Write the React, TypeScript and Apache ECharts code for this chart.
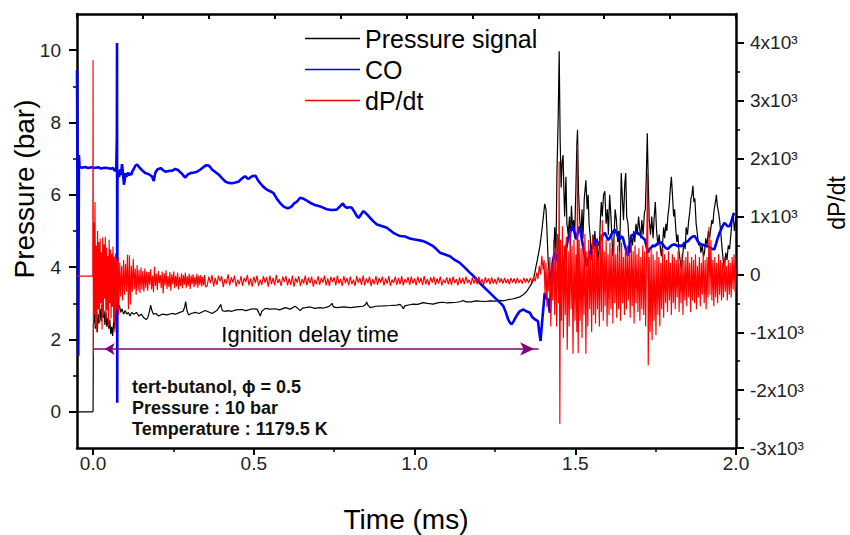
import React, { useEffect, useRef } from 'react';
import * as echarts from 'echarts';

const FONT = '"Liberation Sans", Arial, Helvetica, sans-serif';

// axis ticks
const X_TICKS = [0, 0.5, 1.0, 1.5, 2.0];
const X_MINOR = [0.25, 0.75, 1.25, 1.75];
const P_TICKS = [0, 2, 4, 6, 8, 10];
const P_MINOR = [1, 3, 5, 7, 9];
const D_TICKS = [-3000, -2000, -1000, 0, 1000, 2000, 3000, 4000];
const D_MINOR = [-2500, -1500, -500, 500, 1500, 2500, 3500];

const LEGEND_NAMES = ['Pressure signal', 'CO', 'dP/dt'];

// Pressure signal (bar) vs time (ms)
const pressure: number[][] = [
  [-0.05, 0], [-0.002, 0], [0.0, 0.02], [0.001, 2.4],
  [0.004, 2.75], [0.007, 2.3], [0.01, 2.9], [0.013, 2.2], [0.016, 2.7], [0.019, 2.45], [0.022, 2.85], [0.025, 2.5],
  [0.028, 2.95], [0.031, 2.6], [0.034, 2.8], [0.037, 2.4], [0.04, 2.75], [0.043, 2.35], [0.046, 2.6], [0.049, 2.3],
  [0.052, 2.55], [0.055, 2.15], [0.058, 2.35], [0.061, 2.1], [0.064, 2.5], [0.067, 2.3], [0.07, 2.6], [0.073, 2.95],
  [0.076, 3.1], [0.079, 2.85], [0.082, 2.95], [0.086, 2.75], [0.09, 2.85], [0.095, 2.7], [0.1, 2.8], [0.105, 2.7],
  [0.11, 2.75], [0.115, 2.65], [0.12, 2.75], [0.127, 2.7], [0.135, 2.75], [0.142, 2.65], [0.15, 2.7], [0.158, 2.6],
  [0.165, 2.55], [0.17, 2.6], [0.176, 2.8], [0.179, 2.95], [0.183, 2.8], [0.188, 2.7], [0.195, 2.72], [0.204, 2.65],
  [0.215, 2.7], [0.23, 2.68], [0.245, 2.72], [0.256, 2.7], [0.27, 2.75], [0.28, 2.78], [0.285, 2.9], [0.288, 3.05],
  [0.292, 2.8], [0.297, 2.68], [0.305, 2.72], [0.318, 2.75], [0.33, 2.72], [0.349, 2.8], [0.36, 2.76], [0.37, 2.72],
  [0.385, 2.8], [0.393, 2.9], [0.397, 2.97], [0.402, 2.8], [0.41, 2.78], [0.42, 2.8], [0.432, 2.78], [0.445, 2.82],
  [0.463, 2.83], [0.475, 2.8], [0.484, 2.82], [0.495, 2.85], [0.51, 2.84], [0.515, 2.75], [0.52, 2.65], [0.525, 2.78],
  [0.536, 2.86], [0.55, 2.84], [0.567, 2.85], [0.58, 2.82], [0.598, 2.88], [0.613, 2.84], [0.629, 2.92], [0.637, 2.86],
  [0.644, 2.8], [0.652, 2.87], [0.66, 2.88], [0.675, 2.9], [0.69, 2.86], [0.705, 2.88], [0.717, 2.87], [0.73, 2.9],
  [0.738, 2.94], [0.743, 3.0], [0.748, 2.9], [0.758, 2.88], [0.78, 2.9], [0.8, 2.88], [0.82, 2.9], [0.84, 2.92],
  [0.848, 2.97], [0.851, 3.04], [0.855, 2.95], [0.862, 2.88], [0.88, 2.92], [0.903, 2.93], [0.925, 2.94], [0.945, 2.95],
  [0.955, 2.97], [0.962, 2.9], [0.965, 2.85], [0.97, 2.93], [0.985, 2.96], [0.996, 2.98], [1.01, 2.97], [1.027, 3.02],
  [1.04, 3.0], [1.058, 2.98], [1.075, 3.02], [1.09, 3.03], [1.1, 3.01], [1.115, 3.02], [1.131, 3.03], [1.145, 3.05],
  [1.151, 3.08], [1.16, 3.04], [1.177, 3.04], [1.19, 3.07], [1.203, 3.06], [1.22, 3.05], [1.234, 3.07], [1.25, 3.06],
  [1.265, 3.08], [1.276, 3.07], [1.29, 3.1], [1.305, 3.12], [1.317, 3.15], [1.328, 3.18], [1.338, 3.24], [1.348, 3.32],
  [1.359, 3.47], [1.368, 3.6], [1.374, 3.84], [1.382, 4.2], [1.39, 4.58], [1.396, 5.0], [1.402, 5.5], [1.405, 5.75],
  [1.409, 5.6], [1.412, 5.0], [1.416, 4.1], [1.421, 3.7], [1.426, 3.9], [1.431, 3.6], [1.436, 5.1], [1.44, 4.4],
  [1.443, 6.6], [1.447, 8.2], [1.45, 9.97], [1.453, 7.5], [1.456, 6.2], [1.459, 6.9], [1.462, 7.1], [1.465, 6.0],
  [1.467, 5.4], [1.471, 6.5], [1.474, 5.2], [1.478, 4.9], [1.482, 5.4], [1.485, 4.6], [1.488, 5.7], [1.492, 5.0],
  [1.495, 5.3], [1.498, 4.8], [1.502, 6.2], [1.505, 7.4], [1.507, 7.8], [1.51, 6.1], [1.514, 5.3], [1.518, 4.9],
  [1.521, 5.6], [1.524, 4.8], [1.528, 5.9], [1.533, 6.4], [1.537, 5.6], [1.54, 6.0], [1.543, 5.2], [1.547, 4.8],
  [1.55, 4.2], [1.555, 4.9], [1.558, 4.5], [1.561, 5.0], [1.565, 4.4], [1.568, 4.8], [1.571, 4.0], [1.575, 4.6],
  [1.578, 5.3], [1.581, 5.8], [1.584, 5.4], [1.588, 6.0], [1.592, 6.1], [1.596, 5.2], [1.6, 5.6], [1.603, 4.9],
  [1.607, 6.0], [1.611, 5.4], [1.614, 4.8], [1.617, 4.3], [1.621, 4.9], [1.624, 5.6], [1.628, 5.3], [1.632, 4.7],
  [1.635, 5.0], [1.638, 4.4], [1.641, 5.6], [1.643, 6.6], [1.646, 6.0], [1.65, 5.3], [1.654, 6.3], [1.657, 6.6],
  [1.66, 5.4], [1.664, 5.2], [1.668, 4.6], [1.671, 4.4], [1.674, 4.9], [1.678, 4.6], [1.682, 5.0], [1.685, 4.7],
  [1.689, 5.2], [1.693, 4.9], [1.697, 5.4], [1.7, 5.1], [1.704, 4.8], [1.707, 5.3], [1.711, 4.9], [1.715, 5.5],
  [1.718, 5.6], [1.721, 6.5], [1.724, 7.7], [1.727, 6.4], [1.73, 5.3], [1.734, 4.9], [1.738, 5.4], [1.742, 4.8],
  [1.745, 5.3], [1.749, 5.8], [1.753, 5.0], [1.757, 4.6], [1.761, 4.9], [1.765, 4.5], [1.768, 4.3], [1.772, 4.7],
  [1.775, 5.1], [1.778, 4.8], [1.782, 5.2], [1.785, 5.0], [1.788, 5.4], [1.792, 5.7], [1.796, 6.2], [1.799, 6.5],
  [1.803, 5.9], [1.806, 5.4], [1.809, 5.6], [1.813, 5.0], [1.816, 4.7], [1.819, 4.9], [1.823, 4.4], [1.826, 4.2],
  [1.83, 3.95], [1.834, 4.3], [1.838, 4.7], [1.842, 4.5], [1.845, 5.1], [1.849, 4.9], [1.853, 5.3], [1.856, 5.5],
  [1.86, 5.9], [1.863, 6.0], [1.866, 6.25], [1.869, 5.8], [1.872, 5.9], [1.876, 5.2], [1.88, 4.9], [1.884, 4.6],
  [1.887, 4.7], [1.891, 4.4], [1.895, 4.6], [1.899, 4.3], [1.902, 4.4], [1.906, 4.8], [1.91, 4.6], [1.914, 5.0],
  [1.918, 4.8], [1.922, 5.1], [1.925, 5.3], [1.928, 5.2], [1.932, 5.6], [1.936, 5.8], [1.939, 6.0], [1.942, 5.7],
  [1.946, 5.5], [1.949, 5.3], [1.953, 4.9], [1.957, 4.5], [1.96, 4.2], [1.964, 3.95], [1.968, 4.4], [1.972, 4.2],
  [1.976, 4.6], [1.98, 4.5], [1.984, 4.9], [1.988, 5.3], [1.991, 5.5], [1.995, 5.0], [2.0, 5.4],
];

// CO signal (plotted on the pressure axis)
const co: number[][] = [
  [-0.05, 9.45], [-0.046, 1.55], [-0.044, 7.1], [-0.042, 6.78], [-0.035, 6.75], [-0.025, 6.77], [-0.015, 6.74],
  [-0.005, 6.76], [0.005, 6.74], [0.015, 6.76], [0.025, 6.73], [0.035, 6.75], [0.045, 6.74], [0.055, 6.72],
  [0.062, 6.74], [0.068, 6.66], [0.072, 6.7], [0.074, 7.6], [0.0745, 10.2], [0.0752, 0.25], [0.0758, 6.4],
  [0.078, 6.55], [0.081, 6.5], [0.084, 6.7], [0.087, 6.55], [0.09, 6.85], [0.093, 6.6], [0.096, 6.28], [0.099, 6.45],
  [0.101, 6.6], [0.105, 6.5], [0.108, 6.62], [0.111, 6.54], [0.115, 6.6], [0.119, 6.55], [0.122, 6.65], [0.127, 6.72],
  [0.132, 6.81], [0.137, 6.84], [0.142, 6.78], [0.148, 6.72], [0.155, 6.66], [0.163, 6.6], [0.17, 6.58], [0.177, 6.55],
  [0.184, 6.5], [0.187, 6.42], [0.189, 6.38], [0.191, 6.5], [0.194, 6.62], [0.2, 6.7], [0.21, 6.74], [0.218, 6.68],
  [0.225, 6.64], [0.235, 6.66], [0.246, 6.67], [0.256, 6.72], [0.265, 6.68], [0.272, 6.62], [0.277, 6.58], [0.282, 6.52],
  [0.287, 6.48], [0.293, 6.55], [0.303, 6.6], [0.314, 6.62], [0.324, 6.64], [0.334, 6.7], [0.344, 6.77], [0.352, 6.82],
  [0.36, 6.81], [0.365, 6.76], [0.37, 6.7], [0.38, 6.63], [0.391, 6.56], [0.401, 6.46], [0.411, 6.37], [0.421, 6.33],
  [0.432, 6.32], [0.443, 6.34], [0.453, 6.37], [0.463, 6.45], [0.47, 6.5], [0.474, 6.51], [0.479, 6.46], [0.484, 6.44],
  [0.49, 6.49], [0.497, 6.52], [0.505, 6.53], [0.512, 6.42], [0.52, 6.32], [0.53, 6.22], [0.541, 6.14], [0.551, 6.1],
  [0.561, 6.05], [0.571, 5.9], [0.582, 5.77], [0.592, 5.68], [0.603, 5.63], [0.61, 5.64], [0.618, 5.68], [0.625, 5.76],
  [0.634, 5.81], [0.644, 5.92], [0.655, 5.89], [0.665, 5.84], [0.675, 5.78], [0.69, 5.72], [0.707, 5.68], [0.717, 5.64],
  [0.727, 5.6], [0.742, 5.58], [0.758, 5.59], [0.768, 5.68], [0.777, 5.76], [0.783, 5.68], [0.79, 5.64], [0.798, 5.66],
  [0.805, 5.64], [0.815, 5.5], [0.82, 5.42], [0.826, 5.36], [0.833, 5.45], [0.841, 5.55], [0.85, 5.48], [0.862, 5.36],
  [0.873, 5.26], [0.883, 5.18], [0.9, 5.13], [0.914, 5.09], [0.924, 5.02], [0.934, 4.95], [0.945, 4.9], [0.955, 4.86],
  [0.97, 4.85], [0.983, 4.8], [0.996, 4.77], [1.01, 4.75], [1.027, 4.72], [1.042, 4.66], [1.058, 4.58], [1.068, 4.5],
  [1.079, 4.4], [1.095, 4.35], [1.11, 4.3], [1.125, 4.2], [1.141, 4.12], [1.155, 4.0], [1.172, 3.85], [1.183, 3.76],
  [1.193, 3.66], [1.21, 3.5], [1.224, 3.38], [1.24, 3.24], [1.255, 3.11], [1.266, 3.02], [1.276, 2.93], [1.284, 2.75],
  [1.291, 2.56], [1.297, 2.46], [1.302, 2.42], [1.308, 2.5], [1.317, 2.65], [1.327, 2.78], [1.338, 2.83], [1.348, 2.78],
  [1.359, 2.74], [1.366, 2.62], [1.374, 2.56], [1.384, 2.51], [1.388, 2.2], [1.392, 1.96], [1.396, 2.4], [1.4, 2.8],
  [1.405, 3.29], [1.41, 3.15], [1.415, 3.1], [1.421, 2.74], [1.426, 3.85], [1.431, 4.2], [1.436, 4.4], [1.442, 4.3],
  [1.447, 4.1], [1.452, 3.9], [1.457, 3.66], [1.462, 4.0], [1.468, 4.3], [1.473, 4.58], [1.478, 4.8], [1.483, 4.95],
  [1.488, 5.05], [1.493, 5.13], [1.498, 4.95], [1.503, 4.77], [1.508, 4.95], [1.514, 5.13], [1.519, 4.85], [1.524, 4.58],
  [1.53, 4.3], [1.535, 4.03], [1.54, 4.2], [1.545, 4.35], [1.55, 4.5], [1.556, 4.65], [1.561, 4.77], [1.566, 4.7],
  [1.571, 4.6], [1.576, 4.7], [1.582, 4.82], [1.587, 4.9], [1.592, 4.95], [1.597, 4.85], [1.602, 4.75], [1.607, 4.8],
  [1.612, 4.9], [1.618, 4.98], [1.623, 5.04], [1.628, 4.95], [1.633, 4.85], [1.638, 4.77], [1.643, 4.85], [1.648, 4.82],
  [1.654, 4.6], [1.659, 4.45], [1.664, 4.31], [1.669, 4.6], [1.674, 4.86], [1.68, 4.9], [1.685, 4.92], [1.69, 4.95],
  [1.695, 4.95], [1.7, 4.9], [1.706, 4.85], [1.711, 4.8], [1.716, 4.77], [1.721, 4.6], [1.726, 4.4], [1.731, 4.5],
  [1.737, 4.55], [1.742, 4.6], [1.747, 4.58], [1.752, 4.62], [1.757, 4.66], [1.763, 4.68], [1.768, 4.68], [1.773, 4.62],
  [1.778, 4.56], [1.783, 4.52], [1.788, 4.5], [1.794, 4.56], [1.799, 4.6], [1.804, 4.62], [1.809, 4.63], [1.815, 4.6],
  [1.82, 4.58], [1.825, 4.6], [1.83, 4.58], [1.835, 4.62], [1.84, 4.66], [1.846, 4.7], [1.851, 4.72], [1.856, 4.78],
  [1.861, 4.82], [1.866, 4.85], [1.871, 4.86], [1.876, 4.8], [1.882, 4.7], [1.887, 4.65], [1.892, 4.63], [1.897, 4.62],
  [1.902, 4.6], [1.907, 4.58], [1.912, 4.58], [1.918, 4.55], [1.923, 4.52], [1.928, 4.5], [1.933, 4.5], [1.938, 4.65],
  [1.943, 4.8], [1.949, 4.95], [1.954, 5.05], [1.959, 5.15], [1.964, 5.22], [1.969, 5.18], [1.974, 5.13], [1.98, 5.13],
  [1.985, 5.25], [1.99, 5.4], [1.995, 5.5],
];

// dP/dt (right axis)
const dpdt: number[][] = [
  [-0.05, -30], [-0.001, -30], [0.0, 3700], [0.001, -1380],
  [0.002, 900], [0.004, -700], [0.006, 1250], [0.008, -900], [0.01, 500], [0.012, -1000], [0.014, 750], [0.016, -600],
  [0.018, 560], [0.02, -850], [0.022, 620], [0.024, -500], [0.026, 380], [0.028, -950], [0.03, 640], [0.032, -700],
  [0.034, 520], [0.036, -420], [0.038, 650], [0.04, -800], [0.042, 460], [0.044, -620], [0.046, 320], [0.048, -900],
  [0.05, 600], [0.052, -500], [0.054, 430], [0.056, -760], [0.058, 360], [0.06, -560], [0.062, 480], [0.064, -830],
  [0.066, 310], [0.068, -1000], [0.07, 360], [0.072, -620], [0.074, 260], [0.076, -460], [0.078, 300], [0.08, -700],
  [0.083, 200], [0.086, -380], [0.089, 150], [0.092, -450], [0.095, 250], [0.098, -350], [0.101, 180], [0.104, -300],
  [0.107, 340], [0.11, -600], [0.113, 330], [0.116, -520], [0.119, 150], [0.122, -300], [0.125, 270], [0.128, -260],
  [0.131, 100], [0.134, -350], [0.137, 160], [0.14, -280], [0.143, 80], [0.146, -320], [0.149, 120], [0.152, -260],
  [0.155, 60], [0.158, -300], [0.161, 100], [0.164, -240], [0.167, 50], [0.17, -280],
  [0.173, 40], [0.176, -180], [0.179, 90], [0.182, -260], [0.185, -20], [0.188, -310], [0.191, 130], [0.194, -200],
  [0.197, 10], [0.2, -270], [0.203, 60], [0.206, -150], [0.209, -10], [0.212, -240], [0.215, 50], [0.218, -330],
  [0.221, 20], [0.224, -190], [0.227, 70], [0.23, -250], [0.233, -30], [0.236, -220], [0.239, 40], [0.242, -280],
  [0.245, 0], [0.248, -170], [0.251, 50], [0.254, -240], [0.257, -20], [0.26, -210], [0.263, 30], [0.266, -260],
  [0.269, -40], [0.272, -200], [0.275, 20], [0.278, -240], [0.281, -10], [0.284, -180], [0.287, 30], [0.29, -230],
  [0.293, -30], [0.296, -200], [0.299, 10], [0.302, -250], [0.305, -20], [0.308, -170], [0.311, 0], [0.314, -220],
  [0.317, -40], [0.32, -190], [0.323, 10], [0.326, -230], [0.329, -20], [0.332, -180], [0.335, -10], [0.338, -210],
  [0.341, -40], [0.344, -190], [0.347, -10], [0.35, -220],
  [0.355, -200], [0.36, -40], [0.365, -150], [0.37, -10], [0.375, -210], [0.38, -60], [0.385, -180], [0.39, -20],
  [0.395, -120], [0.4, -30], [0.405, -220], [0.41, -80], [0.415, -160], [0.42, 0], [0.425, -190], [0.43, -50],
  [0.435, -140], [0.44, -20], [0.445, -210], [0.45, -90], [0.455, -170], [0.46, -30], [0.465, -200], [0.47, -60],
  [0.475, -130], [0.48, -10], [0.485, -190], [0.49, -70], [0.495, -210], [0.5, -40], [0.505, -150], [0.51, -20],
  [0.515, -200], [0.52, -90], [0.525, -180], [0.53, -30], [0.535, -140], [0.54, -50], [0.545, -210], [0.55, -20],
  [0.555, -170], [0.56, -60], [0.565, -190], [0.57, -10], [0.575, -150], [0.58, -80], [0.585, -200], [0.59, -40],
  [0.595, -130], [0.6, -30], [0.605, -190], [0.61, -70], [0.615, -180], [0.62, -20], [0.625, -210], [0.63, -60],
  [0.635, -140], [0.64, -30], [0.645, -200], [0.65, -80], [0.655, -160], [0.66, -20], [0.665, -190], [0.67, -50],
  [0.675, -150], [0.68, -40], [0.685, -210], [0.69, -90], [0.695, -170], [0.7, -30], [0.705, -180], [0.71, -60],
  [0.715, -140], [0.72, -20], [0.725, -190], [0.73, -70], [0.735, -200], [0.74, -40], [0.745, -130], [0.75, -50],
  [0.755, -190], [0.76, -20], [0.765, -160], [0.77, -80], [0.775, -200], [0.78, -30], [0.785, -150], [0.79, -60],
  [0.795, -190], [0.8, -40], [0.805, -170], [0.81, -90], [0.815, -200], [0.82, -30], [0.825, -140], [0.83, -60],
  [0.835, -180], [0.84, -20], [0.845, -190], [0.85, -70], [0.855, -150], [0.86, -40], [0.865, -200], [0.87, -80],
  [0.875, -170], [0.88, -30], [0.885, -180], [0.89, -60], [0.895, -140], [0.9, -40], [0.905, -190], [0.91, -70],
  [0.915, -160], [0.92, -30], [0.925, -200], [0.93, -90], [0.935, -150], [0.94, -40], [0.945, -180], [0.95, -60],
  [0.955, -170], [0.96, -30], [0.965, -190], [0.97, -80], [0.975, -140], [0.98, -50], [0.985, -180], [0.99, -40],
  [0.995, -160], [1.0, -70], [1.005, -190], [1.01, -40], [1.015, -150], [1.02, -60], [1.025, -180], [1.03, -30],
  [1.035, -170], [1.04, -80], [1.045, -190], [1.05, -50], [1.055, -140], [1.06, -40], [1.065, -180], [1.07, -70],
  [1.075, -160], [1.08, -40], [1.085, -190], [1.09, -90], [1.095, -150], [1.1, -50], [1.105, -170], [1.11, -60],
  [1.115, -180], [1.12, -40], [1.125, -150], [1.13, -80], [1.135, -190], [1.14, -50], [1.145, -160], [1.15, -60],
  [1.155, -170], [1.16, -40], [1.165, -150], [1.17, -90], [1.175, -180], [1.18, -50], [1.185, -160], [1.19, -60],
  [1.195, -170], [1.2, -40], [1.205, -150], [1.21, -80], [1.215, -180], [1.22, -50], [1.225, -140], [1.23, -70],
  [1.235, -170], [1.24, -50], [1.245, -160], [1.25, -80], [1.255, -170], [1.26, -50], [1.265, -140], [1.27, -70],
  [1.275, -160], [1.28, -60], [1.285, -150], [1.29, -80], [1.295, -170], [1.3, -60], [1.305, -140], [1.31, -70],
  [1.315, -160], [1.32, -60], [1.325, -150], [1.33, -90], [1.335, -160], [1.34, -60], [1.345, -140], [1.35, -70],
  [1.355, -150], [1.36, -60], [1.365, -140], [1.37, -50],
  [1.375, -120], [1.38, 30], [1.384, -80], [1.388, 150], [1.392, 0], [1.396, 320], [1.4, 80], [1.403, 250], [1.406, -350],
  [1.409, 200], [1.412, -560], [1.415, 120], [1.418, -300], [1.421, 300], [1.424, -900], [1.427, 200], [1.43, -450],
  [1.433, 600], [1.436, -700], [1.439, 450], [1.442, -900], [1.445, 700], [1.448, -500], [1.45, 1950], [1.452, -2580],
  [1.454, 600], [1.457, -800], [1.46, 830], [1.463, -1100], [1.466, 500], [1.469, -700], [1.472, 650], [1.475, -1300],
  [1.478, 400], [1.481, -900], [1.484, 750], [1.487, -600], [1.49, 500], [1.493, -1370], [1.496, 600], [1.499, -800],
  [1.502, 350], [1.505, -1000], [1.507, 2240], [1.509, -1360], [1.512, 600], [1.515, -800], [1.518, 450], [1.521, -1100],
  [1.524, 500], [1.527, -700], [1.53, 700], [1.533, -1370], [1.536, 400], [1.539, -900], [1.542, 600], [1.545, -600],
  [1.548, 350], [1.551, -1000], [1.554, 650], [1.557, -700], [1.56, 450], [1.563, -850], [1.566, 550], [1.569, -600],
  [1.572, 300], [1.575, -900], [1.578, 700], [1.581, -650], [1.584, 940], [1.587, -800], [1.59, 400], [1.593, -550],
  [1.596, 600], [1.599, -900], [1.602, 350], [1.605, -700], [1.608, 550], [1.611, -600], [1.614, 450], [1.617, -850],
  [1.62, 600], [1.623, -500], [1.626, 350], [1.629, -750], [1.632, 500], [1.635, -600], [1.638, 400], [1.641, -800],
  [1.644, 550], [1.647, -500], [1.65, 300], [1.653, -700], [1.656, 450], [1.659, -600], [1.662, 500], [1.665, -450],
  [1.668, 350], [1.671, -750], [1.674, 550], [1.677, -550], [1.68, 400], [1.683, -850], [1.686, 500], [1.689, -500],
  [1.692, 350], [1.695, -650], [1.698, 450], [1.701, -800], [1.704, 300], [1.707, -600], [1.71, 500], [1.713, -700],
  [1.716, 400], [1.719, -900], [1.722, 450], [1.725, 1750], [1.727, -1570], [1.73, 300], [1.733, -1000], [1.736, 450],
  [1.739, -1140], [1.742, 350], [1.745, -800], [1.748, 250], [1.751, -1050], [1.754, 400], [1.757, -700], [1.76, 300],
  [1.763, -900], [1.766, 200], [1.769, -600], [1.772, 450], [1.775, -750], [1.778, 350], [1.781, -500], [1.784, 250],
  [1.787, -650], [1.79, 400], [1.793, -450], [1.796, 200], [1.799, -700], [1.802, 350], [1.805, -500], [1.808, 300],
  [1.811, -600], [1.814, 250], [1.817, -400], [1.82, 400], [1.823, -650], [1.826, 200], [1.829, -500], [1.832, 350],
  [1.835, -700], [1.838, 250], [1.841, -450], [1.844, 300], [1.847, -550], [1.85, 400], [1.853, -400], [1.856, 200],
  [1.859, -650], [1.862, 300], [1.865, -450], [1.868, 250], [1.871, -500], [1.874, 350], [1.877, -600], [1.88, 150],
  [1.883, -400], [1.886, 300], [1.889, -550], [1.892, 200], [1.895, -350], [1.898, 350], [1.901, -500], [1.904, 250],
  [1.907, -600], [1.91, 300], [1.913, -400], [1.916, 820], [1.919, -350], [1.922, 600], [1.925, -450], [1.928, 250],
  [1.931, -550], [1.934, 300], [1.937, -400], [1.94, 200], [1.943, -500], [1.946, 350], [1.949, -350], [1.952, 250],
  [1.955, -450], [1.958, 200], [1.961, -400], [1.964, 300], [1.967, -300], [1.97, 150], [1.973, -450], [1.976, 250],
  [1.979, -350], [1.982, 200], [1.985, -400], [1.988, 300], [1.991, -260], [1.994, 350], [1.997, -300], [2.0, 100],
];

// Ignition delay arrow (time in ms, drawn at a pressure-axis level)
const ARROW_START = 0.003;
const ARROW_LEFT_HEAD = 0.036;
const ARROW_RIGHT_HEAD = 1.372;
const ARROW_END = 1.386;
const ARROW_LEVEL = 1.74;

const INFO_LINES = ['tert-butanol, \u03d5 = 0.5', 'Pressure : 10 bar', 'Temperature : 1179.5 K'];

export default function App() {
  const ref = useRef<HTMLDivElement>(null);

  useEffect(() => {
    if (!ref.current) return;
    const chart = echarts.init(ref.current, null, { renderer: 'svg' });
    const axisColor = '#000';
    const labelColor = '#222';
    const xRange = { min: -0.05, max: 2.0 };
    const pRange = { min: -1, max: 11 };
    const dRange = { min: -3000, max: 4500 };

    const option: any = {
      animation: false,
      backgroundColor: '#fff',
      grid: { left: 77, right: 114, top: 14, bottom: 87, containLabel: false, outerBoundsMode: 'none' },
      legend: {
        data: LEGEND_NAMES,
        orient: 'vertical',
        left: 305,
        top: 26,
        padding: 0,
        icon: 'rect',
        itemWidth: 55,
        itemHeight: 1.5,
        itemGap: 6,
        textStyle: { fontFamily: FONT, fontSize: 25, color: '#000' },
        selectedMode: false,
      },
      xAxis: [
        {
          type: 'value', position: 'bottom', ...xRange,
          axisLine: { show: true, onZero: false, lineStyle: { color: axisColor, width: 2.5 } },
          axisTick: { show: true, length: 7, customValues: X_TICKS, lineStyle: { color: axisColor, width: 2 } },
          axisLabel: { customValues: X_TICKS, formatter: (v: number) => v.toFixed(1), margin: 6, fontSize: 19, fontFamily: FONT, color: labelColor },
          splitLine: { show: false },
        },
        {
          type: 'value', position: 'bottom', ...xRange,
          axisLine: { show: false, onZero: false },
          axisTick: { show: true, length: 4, customValues: X_MINOR, lineStyle: { color: axisColor, width: 1.5 } },
          axisLabel: { show: false },
          splitLine: { show: false },
        },
        {
          type: 'value', position: 'top', min: 0, max: 10, interval: 1,
          axisLine: { show: true, onZero: false, lineStyle: { color: axisColor, width: 2.5 } },
          axisTick: { show: true, inside: true, length: 5, lineStyle: { color: axisColor, width: 2 } },
          axisLabel: { show: false },
          splitLine: { show: false },
        },
      ],
      yAxis: [
        {
          type: 'value', position: 'left', ...pRange,
          axisLine: { show: true, onZero: false, lineStyle: { color: axisColor, width: 2.5 } },
          axisTick: { show: true, length: 8, customValues: P_TICKS, lineStyle: { color: axisColor, width: 2 } },
          axisLabel: { customValues: P_TICKS, margin: 16, fontSize: 19, fontFamily: FONT, color: labelColor },
          splitLine: { show: false },
        },
        {
          type: 'value', position: 'right', ...dRange,
          axisLine: { show: true, onZero: false, lineStyle: { color: axisColor, width: 2.5 } },
          axisTick: { show: true, length: 8, customValues: D_TICKS, lineStyle: { color: axisColor, width: 2 } },
          axisLabel: {
            customValues: D_TICKS, margin: 14, fontSize: 19, fontFamily: FONT, color: labelColor,
            formatter: (v: number) => (v === 0 ? '0' : `${v / 1000}x10\u00b3`),
          },
          splitLine: { show: false },
        },
        {
          type: 'value', position: 'left', ...pRange,
          axisLine: { show: false, onZero: false },
          axisTick: { show: true, length: 4, customValues: P_MINOR, lineStyle: { color: axisColor, width: 1.5 } },
          axisLabel: { show: false },
          splitLine: { show: false },
        },
        {
          type: 'value', position: 'right', ...dRange,
          axisLine: { show: false, onZero: false },
          axisTick: { show: true, length: 4, customValues: D_MINOR, lineStyle: { color: axisColor, width: 1.5 } },
          axisLabel: { show: false },
          splitLine: { show: false },
        },
      ],
      series: [
        {
          name: 'Pressure signal', type: 'line', xAxisIndex: 0, yAxisIndex: 0, data: pressure,
          showSymbol: false, symbol: 'none', color: '#000', z: 3,
          lineStyle: { color: '#000', width: 1.2 }, silent: true,
        },
        {
          name: 'CO', type: 'line', xAxisIndex: 0, yAxisIndex: 0, data: co,
          showSymbol: false, symbol: 'none', color: '#0000ff', z: 4,
          lineStyle: { color: '#0000ff', width: 2.6 }, silent: true,
        },
        {
          name: 'dP/dt', type: 'line', xAxisIndex: 0, yAxisIndex: 1, data: dpdt,
          showSymbol: false, symbol: 'none', color: '#ff0000', z: 5,
          lineStyle: { color: '#ff0000', width: 1.15 }, silent: true,
        },
        {
          name: 'arrow', type: 'line', xAxisIndex: 0, yAxisIndex: 0, z: 6, silent: true,
          color: '#800080', lineStyle: { color: '#800080', width: 1.5 },
          itemStyle: { color: '#800080' },
          showSymbol: true, showAllSymbol: true,
          data: [
            { value: [ARROW_START, ARROW_LEVEL], symbol: 'none' },
            { value: [ARROW_LEFT_HEAD, ARROW_LEVEL], symbol: 'arrow', symbolSize: [9, 10], symbolRotate: 90 },
            { value: [ARROW_RIGHT_HEAD, ARROW_LEVEL], symbol: 'arrow', symbolSize: [10, 14], symbolRotate: -90 },
            { value: [ARROW_END, ARROW_LEVEL], symbol: 'none' },
          ],
        },
      ],
      graphic: [
        {
          type: 'text', x: 24, y: 189, rotation: Math.PI / 2, silent: true,
          style: { text: 'Pressure (bar)', fontFamily: FONT, fontSize: 28, fill: '#000', align: 'center', verticalAlign: 'middle' },
        },
        {
          type: 'text', x: 837, y: 203, rotation: Math.PI / 2, silent: true,
          style: { text: 'dP/dt', fontFamily: FONT, fontSize: 23, fill: '#000', align: 'center', verticalAlign: 'middle' },
        },
        {
          type: 'text', x: 406, y: 519, silent: true,
          style: { text: 'Time (ms)', fontFamily: FONT, fontSize: 28, fill: '#000', align: 'center', verticalAlign: 'middle' },
        },
        {
          type: 'text', x: 310, y: 334, silent: true, z: 10,
          style: { text: 'Ignition delay time', fontFamily: FONT, fontSize: 22, fill: '#000', align: 'center', verticalAlign: 'middle' },
        },
        ...INFO_LINES.map((t, i) => ({
          type: 'text', x: 132, y: 387 + i * 21, silent: true, z: 10,
          style: { text: t, fontFamily: FONT, fontSize: 18, fontWeight: 'bold', fill: '#111', align: 'left', verticalAlign: 'middle' },
        })),
      ],
    };

    chart.setOption(option);
    return () => chart.dispose();
  }, []);

  return (
    <div
      ref={ref}
      style={{ position: 'fixed', left: 0, top: 0, width: 850, height: 535, background: '#fff' }}
    />
  );
}
